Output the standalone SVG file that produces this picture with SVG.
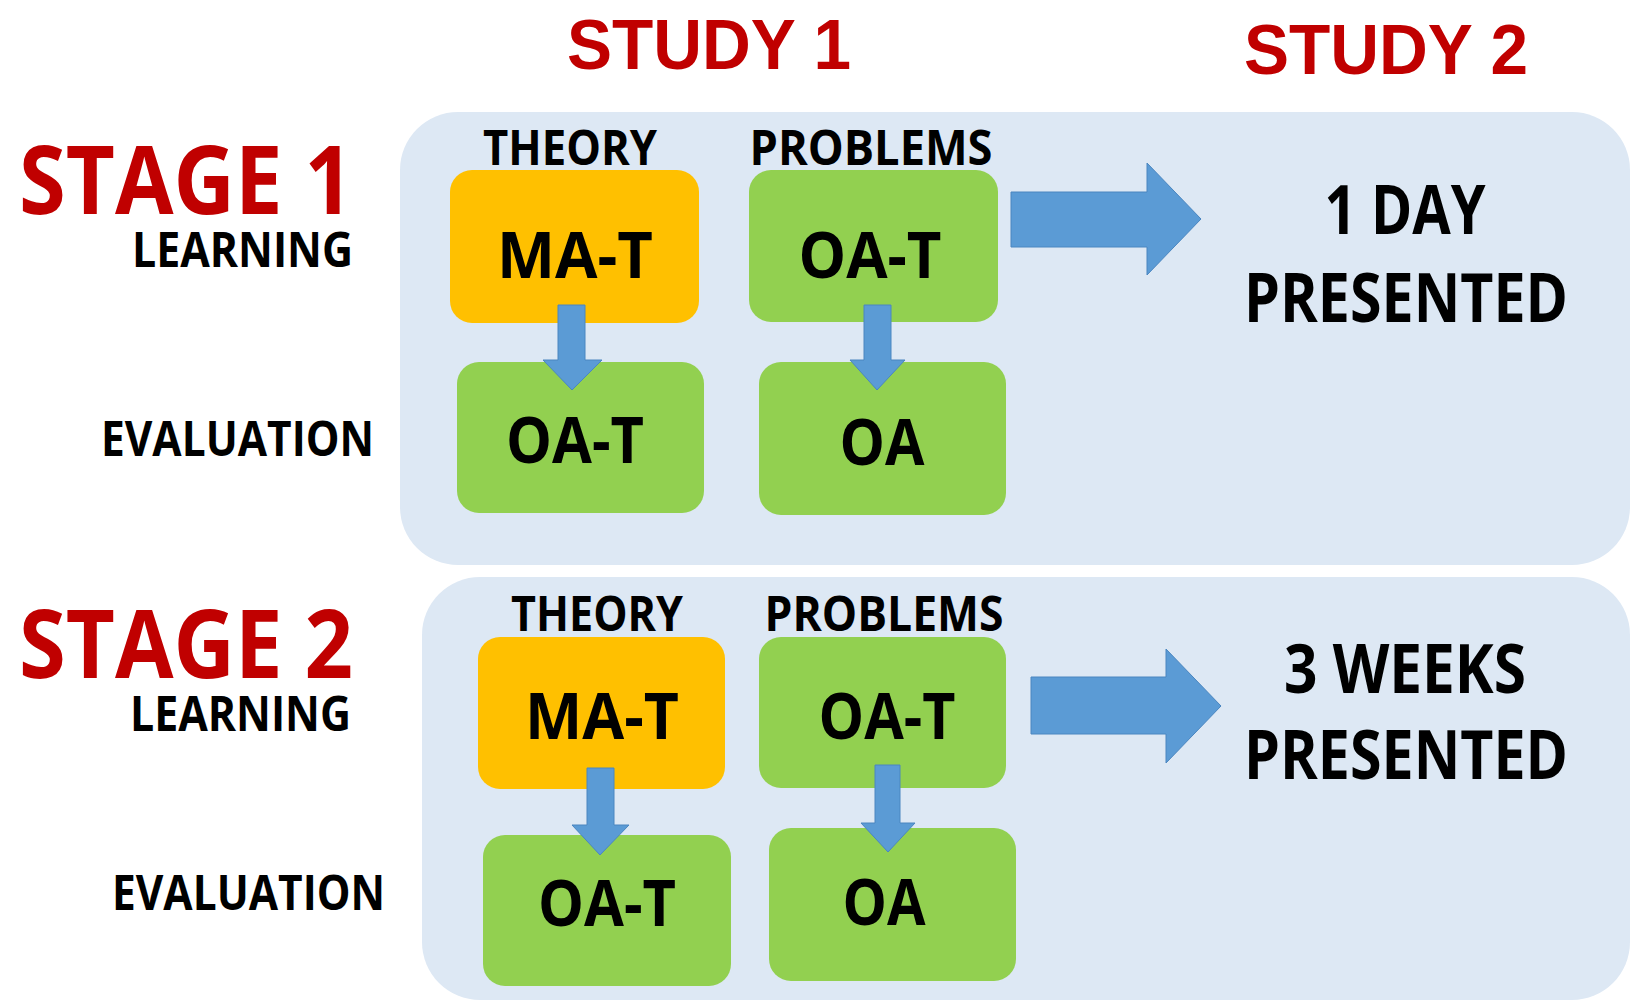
<svg xmlns="http://www.w3.org/2000/svg" width="1630" height="1007" viewBox="0 0 1630 1007">
<style>
text{font-family:"Open Sans","Liberation Sans",sans-serif;font-weight:700;}
.title{font-family:"Liberation Sans","Open Sans",sans-serif;}
.red{fill:#C00000;}
.blk{fill:#000;}
.mid{text-anchor:middle;}
.panel{fill:#DDE8F4;}
.orange{fill:#FFC000;}
.green{fill:#92D050;}
.arrow{fill:#5B9BD5;stroke:#4A86C0;stroke-width:1;}
</style>
<rect width="1630" height="1007" fill="#FFFFFF"/>
<g id="headers">
<text class="title red mid" x="709" y="69" font-size="70" textLength="284" lengthAdjust="spacingAndGlyphs">STUDY 1</text>
<text class="title red mid" x="1386" y="74" font-size="70" textLength="284" lengthAdjust="spacingAndGlyphs">STUDY 2</text>
</g>
<g id="panel1"><rect class="panel" x="400" y="112" width="1230" height="453" rx="58"/></g>
<g id="panel2"><rect class="panel" x="422" y="577" width="1208" height="423" rx="58"/></g>
<g id="stage1-labels">
<text class="red" x="19" y="214" font-size="95" textLength="334" lengthAdjust="spacingAndGlyphs">STAGE 1</text>
<text class="blk" x="132" y="267" font-size="49" textLength="221" lengthAdjust="spacingAndGlyphs">LEARNING</text>
<text class="blk" x="101" y="456" font-size="49" textLength="273" lengthAdjust="spacingAndGlyphs">EVALUATION</text>
<text class="blk mid" x="570" y="165" font-size="49" textLength="174" lengthAdjust="spacingAndGlyphs">THEORY</text>
<text class="blk mid" x="871" y="165" font-size="49" textLength="243" lengthAdjust="spacingAndGlyphs">PROBLEMS</text>
</g>
<g id="stage2-labels">
<text class="red" x="19" y="678" font-size="95" textLength="334" lengthAdjust="spacingAndGlyphs">STAGE 2</text>
<text class="blk" x="130" y="731" font-size="49" textLength="221" lengthAdjust="spacingAndGlyphs">LEARNING</text>
<text class="blk" x="112" y="910" font-size="49" textLength="273" lengthAdjust="spacingAndGlyphs">EVALUATION</text>
<text class="blk mid" x="597" y="631" font-size="49" textLength="172" lengthAdjust="spacingAndGlyphs">THEORY</text>
<text class="blk mid" x="884" y="631" font-size="49" textLength="239" lengthAdjust="spacingAndGlyphs">PROBLEMS</text>
</g>
<g id="s1-mat"><rect class="orange" x="450" y="170" width="249" height="153" rx="22"/><text class="blk mid" x="575" y="278" font-size="64" textLength="156" lengthAdjust="spacingAndGlyphs">MA-T</text></g>
<g id="s1-oat"><rect class="green" x="749" y="170" width="249" height="152" rx="22"/><text class="blk mid" x="870" y="278" font-size="64" textLength="143" lengthAdjust="spacingAndGlyphs">OA-T</text></g>
<g id="s1-eval-oat"><rect class="green" x="457" y="362" width="247" height="151" rx="22"/><text class="blk mid" x="575" y="463" font-size="64" textLength="138" lengthAdjust="spacingAndGlyphs">OA-T</text></g>
<g id="s1-eval-oa"><rect class="green" x="759" y="362" width="247" height="153" rx="22"/><text class="blk mid" x="882" y="465" font-size="64" textLength="85" lengthAdjust="spacingAndGlyphs">OA</text></g>
<g id="s1-result"><text class="blk mid" x="1405" y="234" font-size="68" textLength="161" lengthAdjust="spacingAndGlyphs">1 DAY</text><text class="blk mid" x="1406" y="322" font-size="68" textLength="324" lengthAdjust="spacingAndGlyphs">PRESENTED</text></g>
<g id="s2-mat"><rect class="orange" x="478" y="637" width="247" height="152" rx="22"/><text class="blk mid" x="602" y="739" font-size="64" textLength="154" lengthAdjust="spacingAndGlyphs">MA-T</text></g>
<g id="s2-oat"><rect class="green" x="759" y="637" width="247" height="151" rx="22"/><text class="blk mid" x="887" y="739" font-size="64" textLength="137" lengthAdjust="spacingAndGlyphs">OA-T</text></g>
<g id="s2-eval-oat"><rect class="green" x="483" y="835" width="248" height="151" rx="22"/><text class="blk mid" x="607" y="926" font-size="64" textLength="138" lengthAdjust="spacingAndGlyphs">OA-T</text></g>
<g id="s2-eval-oa"><rect class="green" x="769" y="828" width="247" height="153" rx="22"/><text class="blk mid" x="884" y="925" font-size="64" textLength="83" lengthAdjust="spacingAndGlyphs">OA</text></g>
<g id="s2-result"><text class="blk mid" x="1405" y="693" font-size="68" textLength="242" lengthAdjust="spacingAndGlyphs">3 WEEKS</text><text class="blk mid" x="1406" y="779" font-size="68" textLength="324" lengthAdjust="spacingAndGlyphs">PRESENTED</text></g>
<g id="connectors">
<path class="arrow" d="M558,305 H585 V360 H602 L572,390 L543,360 H558 Z"/>
<path class="arrow" d="M864,305 H891 V360 H905 L877,390 L850,360 H864 Z"/>
<path class="arrow" d="M1011,192 H1147 V163 L1201,219 L1147,275 V247 H1011 Z"/>
<path class="arrow" d="M587,768 H614 V825 H629 L600,855 L572,825 H587 Z"/>
<path class="arrow" d="M875,765 H900 V823 H915 L888,852 L861,823 H875 Z"/>
<path class="arrow" d="M1031,677 H1166 V649 L1221,706 L1166,763 V734 H1031 Z"/>
</g>
</svg>
